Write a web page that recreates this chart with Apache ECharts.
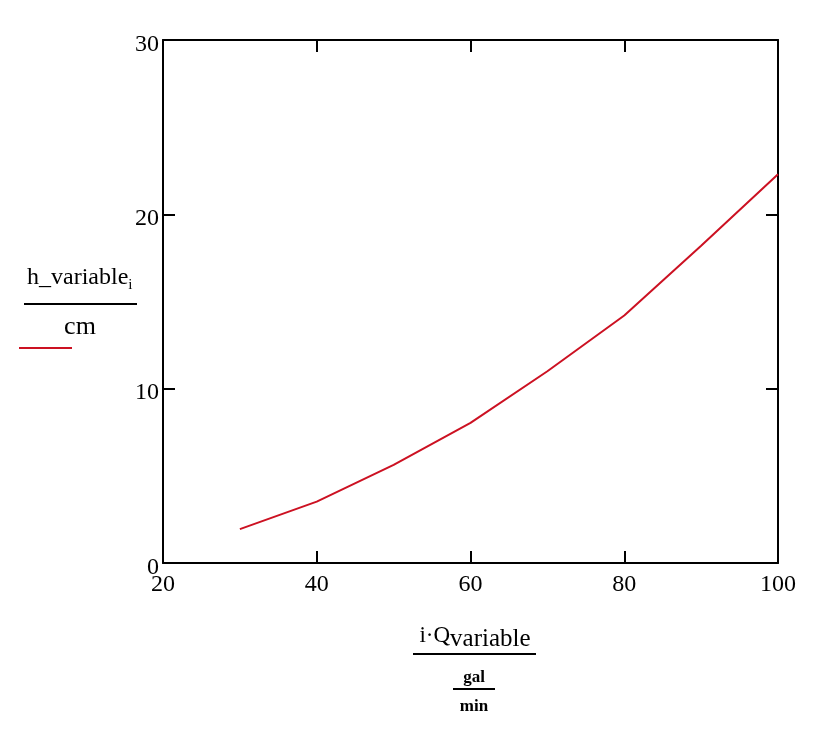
<!DOCTYPE html>
<html>
<head>
<meta charset="utf-8">
<script src="https://cdn.jsdelivr.net/npm/echarts@6/dist/echarts.min.js"></script>
<style>
  html, body { margin: 0; padding: 0; background: #fff; }
  #chart { width: 826px; height: 730px; }
</style>
</head>
<body>
<div id="chart"></div>
<script>
// flow rate (gal/min) and water height (cm)
var flowRates = [30, 40, 50, 60, 70, 80, 90, 100];
var heights = [1.94, 3.52, 5.63, 8.04, 11.0, 14.2, 18.2, 22.3];
var xTicks = [20, 40, 60, 80, 100];
var yTicks = [0, 10, 20, 30];

var FONT = '"Liberation Serif", "DejaVu Serif", serif';

var points = flowRates.map(function (q, i) { return [q, heights[i]]; });

function mirrorAxis(base) {
  // the opposite side of the box: same scale, ticks inward, no labels
  return Object.assign({}, base, {
    axisLabel: { show: false },
    axisLine: { show: true, onZero: false, lineStyle: { color: '#000', width: 2 } },
    axisTick: { show: true, inside: true, length: 12, lineStyle: { color: '#000', width: 2 } },
    splitLine: { show: false }
  });
}

var xBase = {
  type: 'value', min: xTicks[0], max: xTicks[xTicks.length - 1], interval: xTicks[1] - xTicks[0],
  axisLine: { show: true, onZero: false, lineStyle: { color: '#000', width: 2 } },
  axisTick: { show: true, inside: true, length: 12, lineStyle: { color: '#000', width: 2 } },
  axisLabel: { color: '#000', fontFamily: FONT, fontSize: 24, margin: 10 },
  splitLine: { show: false }
};
var yBase = {
  type: 'value', min: yTicks[0], max: yTicks[yTicks.length - 1], interval: yTicks[1] - yTicks[0],
  axisLine: { show: true, onZero: false, lineStyle: { color: '#000', width: 2 } },
  axisTick: { show: true, inside: true, length: 12, lineStyle: { color: '#000', width: 2 } },
  axisLabel: {
    margin: 4,
    formatter: '{n|{value}}',
    rich: { n: { color: '#000', fontFamily: FONT, fontSize: 24, padding: [9, 0, 0, 0] } }
  },
  splitLine: { show: false }
};

var chart = echarts.init(document.getElementById('chart'), null, { renderer: 'canvas' });

chart.setOption({
  animation: false,
  backgroundColor: '#fff',
  grid: { left: 163, top: 40, right: 48, bottom: 167, containLabel: false },
  xAxis: [
    Object.assign({}, xBase, { position: 'bottom' }),
    mirrorAxis(Object.assign({}, xBase, { position: 'top' }))
  ],
  yAxis: [
    Object.assign({}, yBase, { position: 'left' }),
    mirrorAxis(Object.assign({}, yBase, { position: 'right' }))
  ],
  legend: {
    left: 14, top: 342,
    icon: 'rect', itemWidth: 53, itemHeight: 2,
    formatter: function () { return ''; },
    data: ['h']
  },
  series: [{
    name: 'h',
    type: 'line',
    data: points,
    symbol: 'none',
    lineStyle: { color: '#cc1122', width: 2 },
    itemStyle: { color: '#cc1122' }
  }],
  graphic: [
    // y axis title: h_variable_i / cm
    {
      type: 'text', left: 27, top: 266,
      style: {
        text: '{m|h_variable}{s|i}',
        rich: {
          m: { fontFamily: FONT, fontSize: 24, fill: '#000' },
          s: { fontFamily: FONT, fontSize: 15, fill: '#000', verticalAlign: 'bottom', padding: [14, 0, 0, 0] }
        }
      }
    },
    { type: 'line', shape: { x1: 24, y1: 304, x2: 137, y2: 304 }, style: { stroke: '#000', lineWidth: 2 } },
    {
      type: 'text', x: 80, y: 327,
      style: { text: 'cm', fontFamily: FONT, fontSize: 26, fill: '#000', align: 'center', verticalAlign: 'middle' }
    },
    // x axis title: i·Q_variable / (gal/min)
    {
      type: 'text', x: 475, y: 655,
      style: {
        text: '{m|i·Q}{s|variable}',
        align: 'center', verticalAlign: 'bottom',
        rich: {
          m: { fontFamily: FONT, fontSize: 23, fill: '#000', padding: [0, 0, 8, 0] },
          s: { fontFamily: FONT, fontSize: 25, fill: '#000' }
        }
      }
    },
    { type: 'line', shape: { x1: 413, y1: 654, x2: 536, y2: 654 }, style: { stroke: '#000', lineWidth: 2 } },
    {
      type: 'text', x: 474, y: 678,
      style: { text: 'gal', fontFamily: FONT, fontSize: 17, fontWeight: 'bold', fill: '#000', align: 'center', verticalAlign: 'middle' }
    },
    { type: 'line', shape: { x1: 453, y1: 689, x2: 495, y2: 689 }, style: { stroke: '#000', lineWidth: 2 } },
    {
      type: 'text', x: 474, y: 707,
      style: { text: 'min', fontFamily: FONT, fontSize: 17, fontWeight: 'bold', fill: '#000', align: 'center', verticalAlign: 'middle' }
    }
  ]
});
</script>
</body>
</html>
